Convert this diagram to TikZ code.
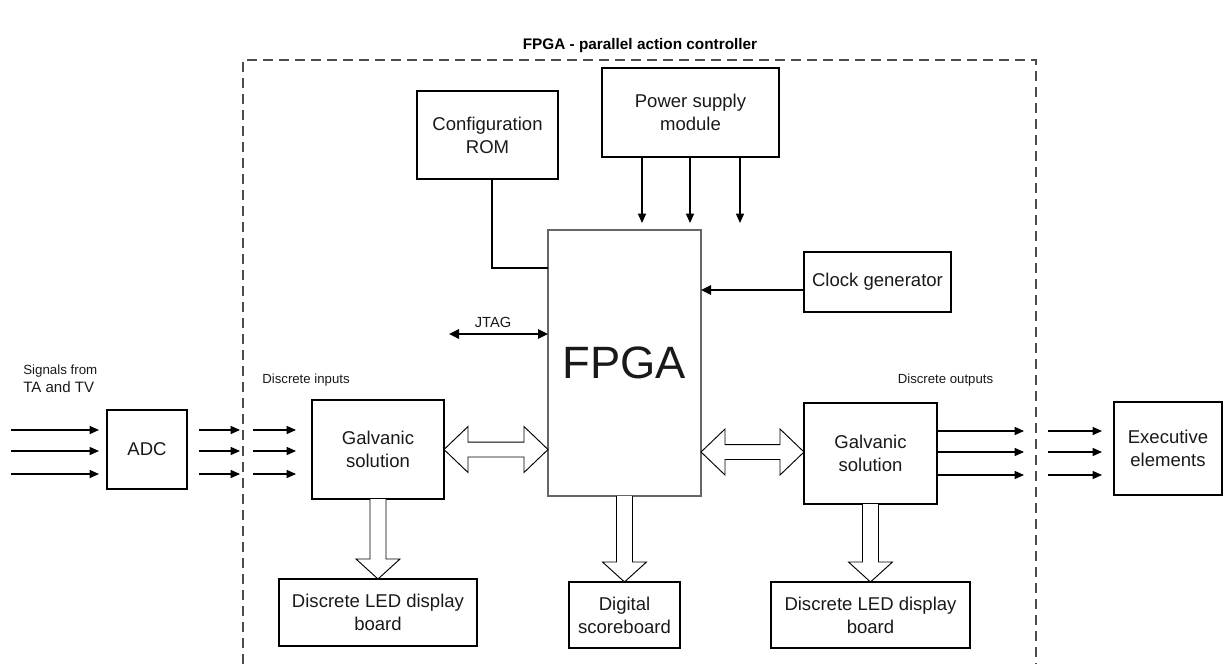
\documentclass[tikz,border=0pt]{standalone}
\usepackage{fontspec}
\setmainfont{Liberation Sans}
\usetikzlibrary{arrows.meta,calc}
\newcommand\dblhollow[2]{%
  \draw[hollow] let \p1=(#1), \p2=(#2) in
    (\x1,\y1) -- (\x1+18pt,\y1+17.25pt) -- (\x1+18pt,\y1+5.6pt) -- (\x2-18pt,\y1+5.6pt)
    -- (\x2-18pt,\y1+17.25pt) -- (\x2,\y1) -- (\x2-18pt,\y1-17.25pt) -- (\x2-18pt,\y1-5.6pt)
    -- (\x1+18pt,\y1-5.6pt) -- (\x1+18pt,\y1-17.25pt) -- cycle;}
\newcommand\downhollow[2]{%
  \draw[hollow] let \p1=(#1), \p2=(#2) in
    (\x1-6pt,\y1) -- (\x1-6pt,\y2+15pt) -- (\x1-16.5pt,\y2+15pt) -- (\x1,\y2)
    -- (\x1+16.5pt,\y2+15pt) -- (\x1+6pt,\y2+15pt) -- (\x1+6pt,\y1);}
\begin{document}
\begin{tikzpicture}[x=0.75pt,y=-0.75pt,
  bx/.style={draw=black,line width=0.8pt,inner sep=0pt,outer sep=0pt,align=center,
    text=black!90,font=\fontsize{13.9}{17.3}\selectfont},
  arr/.style={-{Triangle[length=7pt,width=6pt]},line width=1pt},
  tarr/.style={-{Triangle[length=7.5pt,width=7pt]},line width=1.5pt},
  hollow/.style={draw=black,line width=0.7pt,fill=white,line join=miter},
  frame/.style={draw=black!70,line width=0.8pt,dash pattern=on 7.5pt off 4.5pt},
  small/.style={font=\fontsize{9.9}{12}\selectfont,text=black!90,inner sep=0pt}]
\useasboundingbox (0,0) rectangle (1225,664);

% title
\node[font=\bfseries\fontsize{11.5}{14}\selectfont] (title) at (640,46) {FPGA - parallel action controller};

% dashed frame
\draw[frame] (243,664) -- (243,60) -- (1036,60) -- (1036,664);

% boxes
\node[bx,minimum width=105.75pt,minimum height=66pt] (rom) at (487.5,135) {Configuration\\ROM};
\node[bx,minimum width=132.75pt,minimum height=66.75pt] (psu) at (690.5,112.5) {Power supply\\module};
\node[bx,minimum width=110.25pt,minimum height=45pt] (clk) at (877.5,282) {Clock generator};
\node[bx,draw=black!60,minimum width=114.75pt,minimum height=199.5pt,font=\fontsize{34}{40}\selectfont] (fpga) at (624.5,363) {FPGA};
\node[bx,minimum width=99pt,minimum height=74.25pt] (gl) at (378,449.5) {Galvanic\\solution};
\node[bx,minimum width=99.75pt,minimum height=75.75pt] (gr) at (870.5,453.5) {Galvanic\\solution};
\node[bx,minimum width=60pt,minimum height=59.25pt] (adc) at (147,449.5) {ADC};
\node[bx,minimum width=81pt,minimum height=69.75pt] (exe) at (1168,448.5) {Executive\\elements};
\node[bx,minimum width=148.5pt,minimum height=50.25pt] (led1) at (378,612.5) {Discrete LED display\\board};
\node[bx,minimum width=83.25pt,minimum height=49.5pt] (dsb) at (624.5,615) {Digital\\scoreboard};
\node[bx,minimum width=149.25pt,minimum height=49.5pt] (led2) at (870.5,615) {Discrete LED display\\board};

% labels
\node[small,font=\fontsize{10}{12}\selectfont,anchor=west] (sig1) at (23,371) {Signals from};
\node[small,font=\fontsize{11.3}{13}\selectfont,anchor=west] (sig2) at (23,387) {TA and TV};
\node[small] (din) at (306,380) {Discrete inputs};
\node[small] (dout) at (945.5,380) {Discrete outputs};
\node[small,font=\fontsize{11}{13}\selectfont] (jtag) at (493,322) {JTAG};

% ROM connection
\draw[line width=1.5pt] ([xshift=3.4pt]rom.south) |- (fpga.west |- 0,268);

% power supply arrows
\foreach \xx/\nm in {642/pa,690/pb,740/pc} {
  \coordinate (\nm) at (\xx,223);
  \draw[arr] (psu.south -| \nm) -- (\nm);
}

% clock
\draw[tarr] (clk.west |- 0,290) -- (fpga.east |- 0,290);

% JTAG
\coordinate (jt) at (449,334);
\draw[line width=1.5pt,{Triangle[length=7.5pt,width=7pt]}-{Triangle[length=7.5pt,width=7pt]}] (jt) -- (fpga.west |- jt);

% inputs
\foreach \yy [count=\i] in {430,451,474} {
  \coordinate (i\i) at (11,\yy);
  \coordinate (m\i) at (240,\yy);
  \coordinate (n\i) at (253,\yy);
  \draw[arr,shorten >=6pt] (i\i) -- (adc.west |- i\i);
  \draw[arr,shorten <=9pt] (adc.east |- i\i) -- (m\i);
  \draw[arr,shorten >=12pt] (n\i) -- (gl.west |- n\i);
}

% outputs
\foreach \yy [count=\i] in {431,452,475} {
  \coordinate (o\i) at (1024,\yy);
  \coordinate (q\i) at (1048,\yy);
  \draw[arr] (gr.east |- o\i) -- (o\i);
  \draw[arr,shorten >=9pt] (q\i) -- (exe.west |- q\i);
}

% hollow double arrows
\dblhollow{gl.east}{fpga.west}
\coordinate (gr1) at ($(gr.west)+(0,-1.5)$);
\dblhollow{gr1 -| fpga.east}{gr1}

% hollow down arrows
\downhollow{gl.south}{led1.north}
\downhollow{fpga.south}{dsb.north}
\downhollow{gr.south}{led2.north}
\end{tikzpicture}
\end{document}
